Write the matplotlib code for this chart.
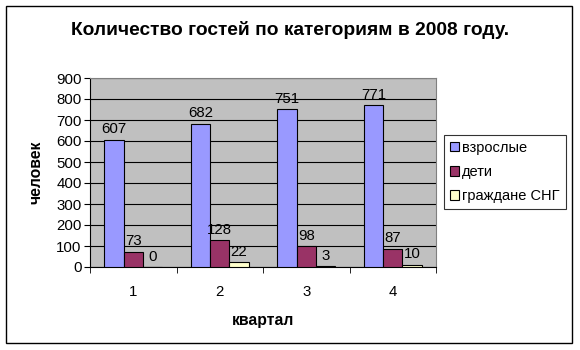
import matplotlib.pyplot as plt
import numpy as np
from matplotlib.patches import Rectangle

plt.rcParams['font.family'] = ['Liberation Sans', 'DejaVu Sans']

quarters = ['1', '2', '3', '4']
series = ['взрослые', 'дети', 'граждане СНГ']
adults = [607, 682, 751, 771]
children = [73, 128, 98, 87]
cis = [0, 22, 3, 10]
colors = ['#9999FF', '#993366', '#FFFFCC']

fig = plt.figure(figsize=(5.8, 3.5), dpi=100)
fig.patches.append(Rectangle((6/580, 7/350), 566/580, 337/350, transform=fig.transFigure,
                             fill=False, edgecolor='black', linewidth=1.0))
ax = fig.add_axes([90/580, 1 - 267/350, 346/580, 189/350])
ax.set_facecolor('#C0C0C0')

x = np.arange(len(quarters))
w = 0.222
for i, (vals, name, c) in enumerate(zip([adults, children, cis], series, colors)):
    bars = ax.bar(x + (i - 1) * w, vals, w, color=c, edgecolor='black', linewidth=0.8,
                  label=name, zorder=3)
    for b, v in zip(bars, vals):
        ax.annotate(f'{v}', xy=(b.get_x() + b.get_width() / 2, v), xytext=(0, 2.5),
                    textcoords='offset points', ha='center', va='bottom', fontsize=10.8)

ax.set_xlim(-0.5, len(quarters) - 0.5)
ax.set_ylim(0, 900)
ax.set_yticks(np.arange(0, 901, 100))
ax.yaxis.grid(True, color='black', linewidth=0.8, zorder=0)
ax.set_axisbelow(True)
ax.set_xticks(x)
ax.set_xticklabels(quarters, fontsize=10.8)
ax.set_xticks(np.arange(-0.5, len(quarters)), minor=True)
ax.tick_params(axis='x', which='major', length=0, pad=13)
ax.tick_params(axis='x', which='minor', length=4, direction='out')
ax.tick_params(axis='y', length=4, direction='out', labelsize=10.8, pad=2)
for s in ['top', 'right']:
    ax.spines[s].set_color('#808080')
for s in ['left', 'bottom']:
    ax.spines[s].set_color('black')

ax.set_xlabel('квартал', fontsize=11.3, fontweight='bold', labelpad=10)
ax.set_ylabel('человек', fontsize=11.3, fontweight='bold', labelpad=9)
fig.text(0.5, 1 - 30/350, 'Количество гостей по категориям в 2008 году.', ha='center',
         va='center', fontsize=13.8, fontweight='bold')

leg = fig.legend(loc='upper left', bbox_to_anchor=(444/580, 1 - 135/350), fontsize=10.5,
                 frameon=True, fancybox=False, edgecolor='black', borderaxespad=0,
                 handlelength=0.6, handleheight=0.6, handletextpad=0.25, labelspacing=0.7,
                 borderpad=0.4)
leg.get_frame().set_linewidth(0.8)

fig.savefig('out.png', dpi=100)
